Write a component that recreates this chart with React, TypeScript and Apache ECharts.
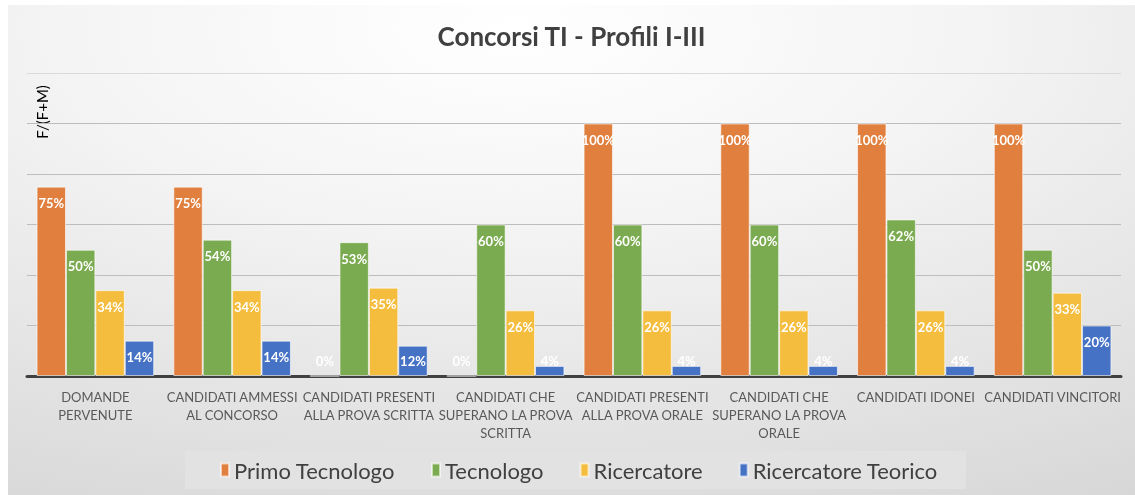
import React, { useEffect, useRef } from "react";
import * as echarts from "echarts";

const categories = [
  "DOMANDE\nPERVENUTE",
  "CANDIDATI AMMESSI\nAL CONCORSO",
  "CANDIDATI PRESENTI\nALLA PROVA SCRITTA",
  "CANDIDATI CHE\nSUPERANO LA PROVA\nSCRITTA",
  "CANDIDATI PRESENTI\nALLA PROVA ORALE",
  "CANDIDATI CHE\nSUPERANO LA PROVA\nORALE",
  "CANDIDATI IDONEI",
  "CANDIDATI VINCITORI",
];

const seriesNames = ["Primo Tecnologo", "Tecnologo", "Ricercatore", "Ricercatore Teorico"];
const primoTecnologo = [0.75, 0.75, 0, 0, 1, 1, 1, 1];
const tecnologo = [0.5, 0.54, 0.53, 0.6, 0.6, 0.6, 0.62, 0.5];
const ricercatore = [0.34, 0.34, 0.35, 0.26, 0.26, 0.26, 0.26, 0.33];
const ricercatoreTeorico = [0.14, 0.14, 0.12, 0.04, 0.04, 0.04, 0.04, 0.2];
const seriesColors = ["#E07F3E", "#7BAB50", "#F5BD3D", "#4572C4"];

const FONT = "Lato, 'Open Sans', sans-serif";

export default function App() {
  const ref = useRef<HTMLDivElement>(null);
  useEffect(() => {
    if (!ref.current) return;
    const chart = echarts.init(ref.current, undefined, { renderer: "svg" });
    const allData = [primoTecnologo, tecnologo, ricercatore, ricercatoreTeorico];
    const option = {
      animation: false,
      backgroundColor: {
        type: "radial",
        x: 0.45,
        y: 0.05,
        r: 1.6,
        colorStops: [
          { offset: 0, color: "#ffffff" },
          { offset: 0.25, color: "#f4f4f4" },
          { offset: 0.7, color: "#d6d6d6" },
          { offset: 1, color: "#c2c2c2" },
        ],
      },
      title: {
        text: "Concorsi TI - Profili I-III",
        left: "center",
        top: 18,
        padding: 0,
        textStyle: { fontFamily: FONT, fontSize: 26, fontWeight: "bold", color: "#404040" },
      },
      legend: {
        data: seriesNames,
        left: 177,
        top: 446,
        icon: "rect",
        itemWidth: 8,
        itemHeight: 13,
        itemGap: 36,
        padding: [8, 28, 8, 35],
        backgroundColor: "#e2e2e2",
        textStyle: { fontFamily: FONT, fontSize: 22, color: "#404040" },
      },
      grid: { left: 19, right: 14, top: 68, bottom: 119, containLabel: false },
      xAxis: {
        type: "category",
        data: categories,
        axisLine: { lineStyle: { color: "#404040", width: 3 } },
        axisTick: { show: false },
        axisLabel: {
          interval: 0,
          color: "#595959",
          fontFamily: FONT,
          fontSize: 13,
          lineHeight: 18,
          margin: 12,
        },
      },
      yAxis: {
        type: "value",
        min: 0,
        max: 1.2,
        interval: 0.2,
        axisLabel: { show: false },
        axisLine: { show: false },
        axisTick: { show: false },
        splitLine: {
          lineStyle: {
            color: ["#bdbdbd", "#bdbdbd", "#bdbdbd", "#bdbdbd", "#bdbdbd", "#bdbdbd", "#dadada"],
            width: 1,
          },
        },
      },
      graphic: [
        {
          type: "text",
          x: 34,
          y: 107,
          rotation: Math.PI / 2,
          style: {
            text: "F/(F+M)",
            fontFamily: FONT,
            fontSize: 15,
            fill: "#000000",
            align: "center",
            verticalAlign: "middle",
          },
        },
      ],
      series: seriesNames.map((name, i) => ({
        name,
        type: "bar",
        barGap: "0%",
        barCategoryGap: "14%",
        itemStyle: { color: seriesColors[i], borderColor: "rgba(255,255,255,0.6)", borderWidth: 1 },
        data: allData[i].map((v) => ({
          value: v,
          label:
            v < 0.13
              ? { position: "insideBottom", distance: 9 }
              : { position: "insideTop", distance: 10 },
        })),
        label: {
          show: true,
          color: "#ffffff",
          fontFamily: FONT,
          fontWeight: "bold",
          fontSize: 13,
          formatter: (p: any) => Math.round(p.value * 100) + "%",
        },
      })),
    };
    chart.setOption(option as any);
    return () => chart.dispose();
  }, []);
  return (
    <div
      ref={ref}
      style={{ position: "fixed", left: 8, top: 5, width: 1127, height: 490 }}
    />
  );
}
